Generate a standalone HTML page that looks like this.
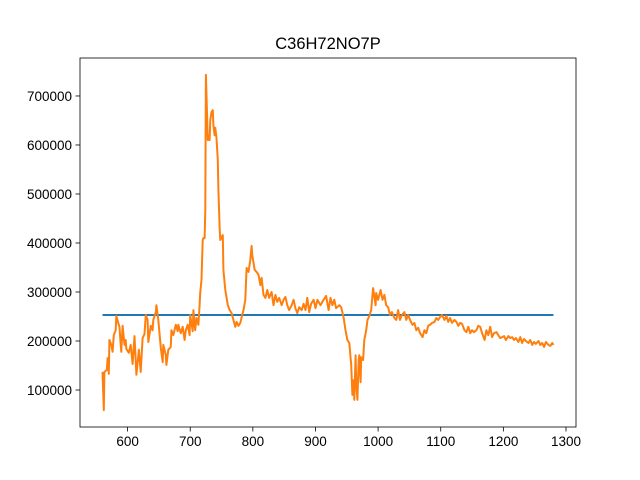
<!DOCTYPE html>
<html><head><meta charset="utf-8"><style>body{margin:0;background:#fff}svg{display:block}</style></head>
<body>
<svg id="chart" width="640" height="480" xmlns="http://www.w3.org/2000/svg" font-family="Liberation Sans, DejaVu Sans, sans-serif"></svg>
<script>
const xTicks=[600,700,800,900,1000,1100,1200,1300];
const yTicks=[100000,200000,300000,400000,500000,600000,700000];
const meanValue=[253000];
const meanRange=[560,1280];
const xs=[560,562,563,567,568,570,571,574,576,578,581,582,586,587,589,590,592,595,597,598,602,605,608,611,614,618,621,624,627,629,632,633,637,640,641,645,646,649,653,656,657,661,662,665,669,670,673,677,680,681,685,688,691,693,696,699,700,704,705,708,710,713,715,716,718,720,721,723,724,725,728,729,731,732,734,736,737,739,740,742,744,745,747,748,752,753,756,760,763,766,769,772,774,777,780,783,785,788,790,793,796,798,799,803,806,809,812,814,817,820,823,826,830,833,836,839,842,846,849,852,855,858,862,865,868,871,874,878,881,884,887,890,893,897,900,903,908,913,917,921,924,927,930,933,938,941,945,948,951,954,957,959,961,962,964,965,967,969,970,972,973,976,978,981,983,986,989,992,996,997,1000,1004,1007,1010,1013,1016,1019,1022,1026,1029,1032,1035,1038,1042,1045,1048,1051,1055,1058,1061,1064,1067,1071,1074,1077,1080,1083,1086,1090,1093,1096,1099,1102,1106,1109,1112,1115,1118,1122,1125,1128,1131,1134,1138,1141,1144,1147,1150,1153,1157,1160,1163,1166,1170,1173,1176,1179,1182,1185,1189,1192,1195,1198,1201,1204,1208,1211,1214,1217,1220,1224,1227,1230,1233,1236,1240,1243,1246,1249,1252,1256,1259,1262,1265,1268,1272,1275,1278,1280];
const ys=[137,59,137,141,165,133,202,192,178,212,222,251,233,229,192,178,231,192,202,184,176,192,153,210,131,182,137,206,214,253,243,198,231,222,243,259,273,243,186,157,192,171,151,182,188,222,212,233,220,233,216,229,202,222,233,212,253,220,263,222,247,233,273,298,325,406,410,410,467,743,610,620,610,651,667,671,641,620,635,614,569,508,427,406,416,345,304,273,263,257,243,229,239,231,237,253,263,284,349,341,365,394,376,345,341,335,314,329,294,288,304,288,300,273,294,280,288,273,284,290,273,263,273,284,267,257,269,263,276,263,288,259,276,284,267,284,273,284,292,263,288,273,284,267,273,269,247,222,202,196,151,90,120,80,171,116,80,161,171,116,167,161,202,222,243,251,263,308,273,298,284,304,284,294,273,269,253,259,247,243,263,243,253,259,243,253,243,233,237,222,227,216,208,222,216,231,233,237,239,247,243,249,253,243,251,239,247,237,243,239,231,237,235,222,218,229,216,222,218,222,231,229,216,202,222,212,229,208,216,218,212,206,208,210,202,210,206,208,202,206,198,208,196,204,200,196,202,192,198,194,200,192,196,188,198,192,190,196,192];
const NS='http://www.w3.org/2000/svg';
const svg=document.getElementById('chart');
const L=80,R=576,T=58,B=427,xmin=524,xmax=1316,ymin=24500,ymax=777500;
const sx=v=>L+(v-xmin)/(xmax-xmin)*(R-L);
const sy=v=>B-(v-ymin)/(ymax-ymin)*(B-T);
function mk(tag,attrs,parent){const e=document.createElementNS(NS,tag);for(const k in attrs)e.setAttribute(k,attrs[k]);(parent||svg).appendChild(e);return e;}
const title=mk('text',{x:328,y:49,'text-anchor':'middle','font-size':'16.5'});title.textContent='C36H72NO7P';


xTicks.forEach(t=>{const x=sx(t);
 const l=mk('line',{x1:x,x2:x,y1:B,y2:B+4.5,stroke:'#000','stroke-width':0.8});
 
 
 const tx=mk('text',{x:x,y:B+19,'text-anchor':'middle','font-size':'13.5'});tx.textContent=t;
 
 });
yTicks.forEach(t=>{const y=sy(t);
 const l=mk('line',{x1:L-4.5,x2:L,y1:y,y2:y,stroke:'#000','stroke-width':0.8});
 
 
 const tx=mk('text',{x:L-8,y:y+5,'text-anchor':'end','font-size':'13.5'});tx.textContent=t;
 
 });
const mean=mk('line',{x1:sx(meanRange[0]),x2:sx(meanRange[1]),y1:sy(meanValue[0]),y2:sy(meanValue[0]),stroke:'#1f77b4','stroke-width':2});


const pts=xs.map((x,i)=>sx(x).toFixed(1)+','+sy(ys[i]*1000).toFixed(1)).join(' ');
const line=mk('polyline',{points:pts,fill:'none',stroke:'#ff7f0e','stroke-width':2,'stroke-linejoin':'round'});


const frame=mk('rect',{x:L,y:T,width:R-L,height:B-T,fill:'none',stroke:'#000','stroke-width':0.8});


</script>
</body></html>
